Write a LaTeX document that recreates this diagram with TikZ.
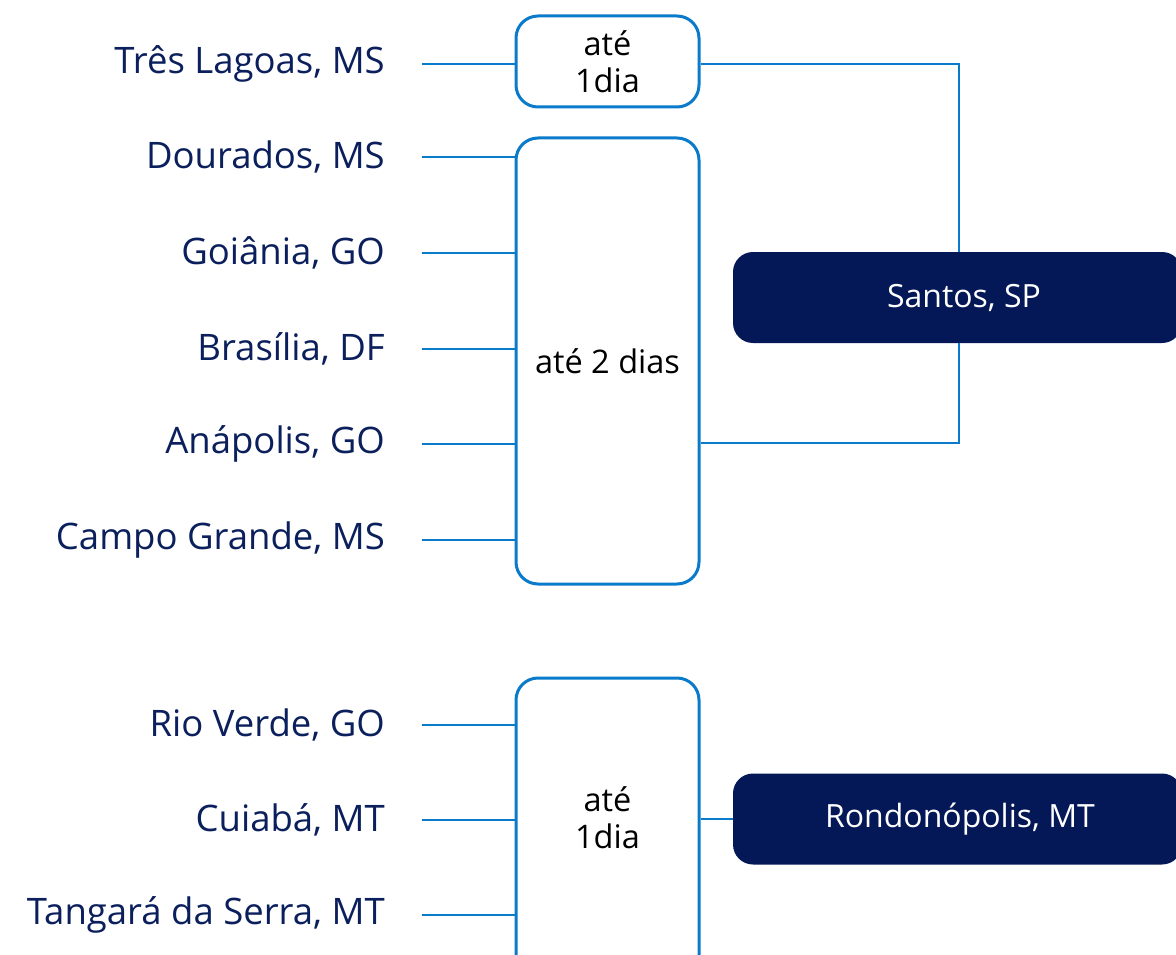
\documentclass[tikz,border=0pt]{standalone}
\usepackage{fontspec}
\setmainfont{Open Sans}
\definecolor{navy}{HTML}{0A1F5C}
\definecolor{boxnavy}{HTML}{041756}
\definecolor{lineblue}{HTML}{0A7ACB}
\begin{document}
\begin{tikzpicture}[x=1pt,y=-1pt,
  city/.style={anchor=east,text=navy,font=\fontsize{36.5}{42}\selectfont,inner sep=0pt},
  timebox/.style={draw=lineblue,line width=3pt,rounded corners=22pt,fill=white,minimum width=183pt,align=center,font=\fontsize{32.5}{37}\selectfont,text=black,inner sep=0pt},
  port/.style={fill=boxnavy,rounded corners=20pt,minimum width=449pt,minimum height=91pt,text=white,font=\fontsize{32}{36}\selectfont,inner sep=0pt},
  conn/.style={draw=lineblue,line width=2.6pt}]
\useasboundingbox (0,0) rectangle (1176,955);
\clip (0,0) rectangle (1176,955);
% cities
\node[city] (c1) at (385,64) {Três Lagoas, MS};
\node[city] (c2) at (385,157) {Dourados, MS};
\node[city] (c3) at (385,253) {Goiânia, GO};
\node[city] (c4) at (385,349) {Brasília, DF};
\node[city] (c5) at (385,444) {Anápolis, GO};
\node[city] (c6) at (385,540) {Campo Grande, MS};
\node[city] (c7) at (385,725) {Rio Verde, GO};
\node[city] (c8) at (385,820) {Cuiabá, MT};
\node[city] (c9) at (385,915) {Tangará da Serra, MT};
% time boxes
\node[timebox,minimum height=91pt] (b1) at (607.5,61.5) {até\\1dia};
\node[timebox,minimum height=446pt] (b2) at (607.5,361) {até 2 dias};
\node[timebox,minimum height=310pt] (b3) at (607.5,833) {};
\node[align=center,font=\fontsize{32.5}{37}\selectfont,inner sep=0pt] (b3t) at (607.5,818) {até\\1dia};
% ports
\node[port] (santos) at (957.5,297.5) {\hspace*{13pt}Santos, SP};
\node[port] (rondo) at (957.5,819) {\hspace*{5pt}Rondonópolis, MT};
% connectors
\foreach \c/\b in {c1/b1,c2/b2,c3/b2,c4/b2,c5/b2,c6/b2,c7/b3,c8/b3,c9/b3}{
  \draw[conn] (\c.east -| 422,0) -- (\c.east -| \b.west);
}
\coordinate (j1) at (959,64);
\coordinate (j2) at (959,443);
\draw[conn] (b1.east |- j1) -- (j1) -- (j1 |- santos.north);
\draw[conn] (b2.east |- j2) -- (j2) -- (j2 |- santos.south);
\draw[conn] (b3.east |- rondo.west) -- (rondo.west);
\end{tikzpicture}
\end{document}
